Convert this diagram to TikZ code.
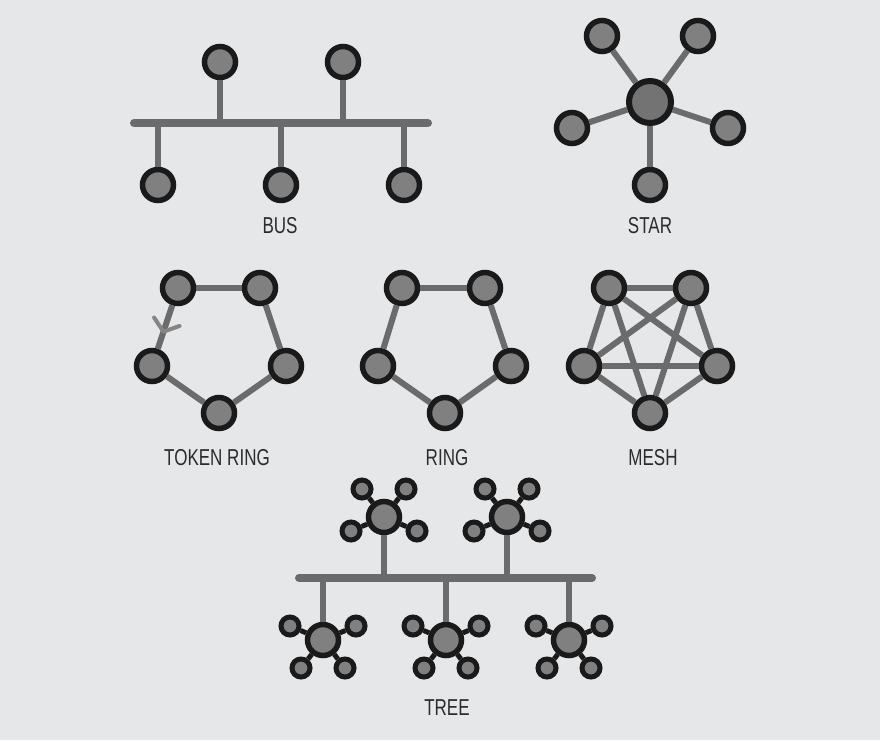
\documentclass[tikz,border=0pt]{standalone}
\usepackage{fontspec}
\newfontfamily\labfont[FakeStretch=0.74]{Liberation Sans}
\usetikzlibrary{calc}
\definecolor{bgc}{HTML}{E6E7E8}
\definecolor{nodefill}{HTML}{808080}
\definecolor{nodeedge}{HTML}{1A1A1A}
\definecolor{linec}{HTML}{6B6B6B}
\definecolor{txtc}{HTML}{2B2B2B}
\definecolor{tokc}{HTML}{858585}
\tikzset{
  pc/.style={circle,fill=nodefill,draw=nodeedge,line width=5.5pt,minimum size=31pt,inner sep=0pt},
  bigpc/.style={circle,fill=nodefill!90!black,draw=nodeedge,line width=6pt,minimum size=42pt,inner sep=0pt},
  sat/.style={circle,fill=nodefill,draw=nodeedge,line width=5pt,minimum size=18pt,inner sep=0pt},
  link/.style={draw=linec,line width=6pt},
  busbar/.style={draw=linec,line width=8pt,line cap=round},
  hubline/.style={draw=nodeedge,line width=5pt},
  lab/.style={text=txtc,font=\labfont\fontsize{23pt}{26pt}\selectfont,inner sep=0pt},
  tok/.style={draw=tokc,line width=4pt}
}
\begin{document}
\begin{tikzpicture}[x=1pt,y=-1pt]
\useasboundingbox (0,0) rectangle (880,740);
\fill[bgc] (0,0) rectangle (880,740);

% ---------- BUS ----------
\coordinate (busL) at (134,123);
\coordinate (busR) at (428,123);
\node[pc] (bt1) at (220,62) {};
\node[pc] (bt2) at (343,62) {};
\node[pc] (bb1) at (158,185) {};
\node[pc] (bb2) at (281,185) {};
\node[pc] (bb3) at (404,185) {};
\foreach \n in {bt1,bt2,bb1,bb2,bb3} \draw[link] (\n) -- (\n |- busL);
\draw[busbar] (busL) -- (busR);
\node[lab] (buslab) at (280,226) {BUS};

% ---------- STAR ----------
\node[bigpc] (sc) at (650,102) {};
\node[pc] (s1) at (602,36) {};
\node[pc] (s2) at (698,36) {};
\node[pc] (s3) at (572,128) {};
\node[pc] (s4) at (728,128) {};
\node[pc] (s5) at (650,185) {};
\foreach \n in {s1,s2,s3,s4,s5} \draw[link] (sc) -- (\n);
\node[lab] (starlab) at (650,226) {STAR};

% ---------- TOKEN RING ----------
\node[pc] (ta) at (178,288) {};
\node[pc] (tb) at (260,288) {};
\node[pc] (tc) at (286,366) {};
\node[pc] (td) at (219,413) {};
\node[pc] (te) at (152,366) {};
\draw[link] (ta) -- (tb);
\draw[link] (tb) -- (tc);
\draw[link] (tc) -- (td);
\draw[link] (td) -- (te);
\draw[link] (te) -- (ta);
\coordinate (tip) at ($(ta)!0.56!(te)$);
\draw[tok,line cap=round,line join=round] ($(tip)!17pt!52:(ta)$) -- (tip) -- ($(tip)!17pt!-52:(ta)$);
\node[lab] (toklab) at (217,458) {TOKEN RING};

% ---------- RING ----------
\node[pc] (ra) at (402,288) {};
\node[pc] (rb) at (485,288) {};
\node[pc] (rc) at (511,366) {};
\node[pc] (rd) at (445,413) {};
\node[pc] (re) at (378,366) {};
\draw[link] (ra) -- (rb);
\draw[link] (rb) -- (rc);
\draw[link] (rc) -- (rd);
\draw[link] (rd) -- (re);
\draw[link] (re) -- (ra);
\node[lab] (ringlab) at (447,458) {RING};

% ---------- MESH ----------
\node[pc] (ma) at (609,288) {};
\node[pc] (mb) at (691,288) {};
\node[pc] (mc) at (717,366) {};
\node[pc] (md) at (650,413) {};
\node[pc] (me) at (584,366) {};
\draw[link] (ma) -- (mb);
\draw[link] (mb) -- (mc);
\draw[link] (mc) -- (md);
\draw[link] (md) -- (me);
\draw[link] (me) -- (ma);
\draw[link] (ma) -- (mc);
\draw[link] (ma) -- (md);
\draw[link] (mb) -- (md);
\draw[link] (mb) -- (me);
\draw[link] (mc) -- (me);
\node[lab] (meshlab) at (653,458) {MESH};

% ---------- TREE ----------
\coordinate (trL) at (299,578);
\coordinate (trR) at (592,578);
\foreach \h/\x in {th1/384,th2/507} {
  \node[pc] (\h) at (\x,517) {};
  \foreach \dx/\dy [count=\i] in {-22/-28,22/-28,-33/14,33/14} {
    \node[sat] (\h s\i) at ($(\h)+(\dx,\dy)$) {};
    \draw[hubline] (\h) -- (\h s\i);
  }
  \draw[link] (\h) -- (\h |- trL);
}
\foreach \h/\x in {bh1/323,bh2/446,bh3/569} {
  \node[pc] (\h) at (\x,640) {};
  \foreach \dx/\dy [count=\i] in {-33/-14,33/-14,-22/28,22/28} {
    \node[sat] (\h s\i) at ($(\h)+(\dx,\dy)$) {};
    \draw[hubline] (\h) -- (\h s\i);
  }
  \draw[link] (\h) -- (\h |- trL);
}
\draw[busbar] (trL) -- (trR);
\node[lab] (treelab) at (447,708) {TREE};
\end{tikzpicture}
\end{document}
